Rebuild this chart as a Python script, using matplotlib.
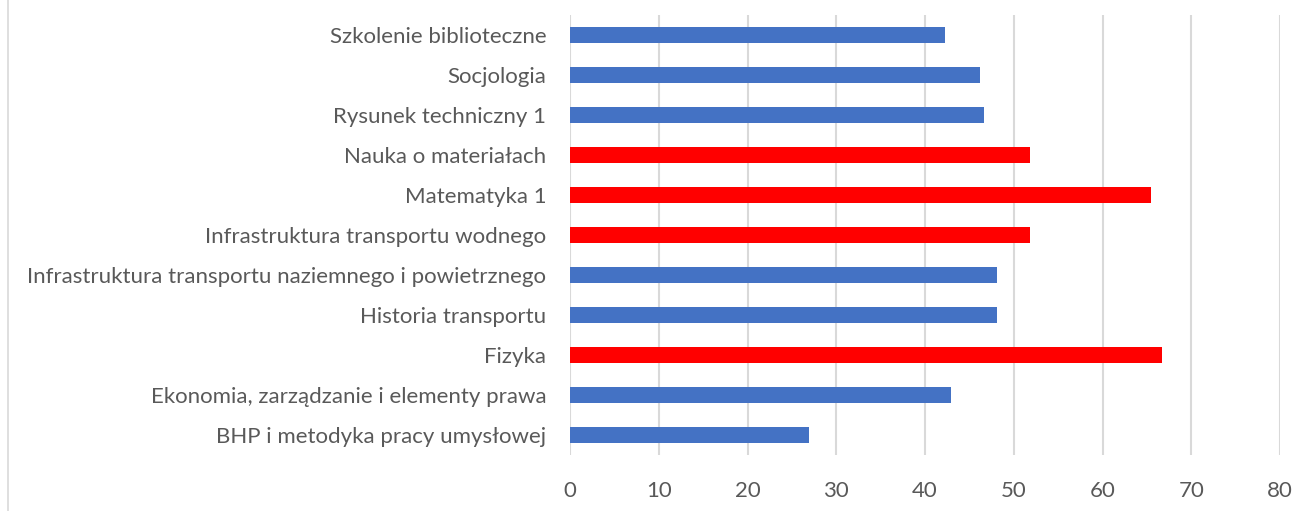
import matplotlib
matplotlib.use("Agg")
import matplotlib.pyplot as plt
from matplotlib.lines import Line2D


subjects = [
    "Szkolenie biblioteczne",
    "Socjologia",
    "Rysunek techniczny 1",
    "Nauka o materiałach",
    "Matematyka 1",
    "Infrastruktura transportu wodnego",
    "Infrastruktura transportu naziemnego i powietrznego",
    "Historia transportu",
    "Fizyka",
    "Ekonomia, zarządzanie i elementy prawa",
    "BHP i metodyka pracy umysłowej",
]
values = [42.3, 46.2, 46.7, 51.8, 65.5, 51.8, 48.1, 48.1, 66.7, 42.9, 26.9]
highlighted = [False, False, False, True, True, True, False, False, True, False, False]
x_ticks = [0, 10, 20, 30, 40, 50, 60, 70, 80]

BLUE = "#4472C4"
RED = "#FF0000"
TEXT = "#595959"
GRID = "#D9D9D9"


def main():
    plt.rcParams['font.family'] = ['Lato', 'DejaVu Sans']
    fig = plt.figure(figsize=(13.11, 5.11), dpi=100)
    ax = fig.add_axes([570 / 1311, 1 - 455 / 511, 710 / 1311, 440 / 511])

    colors = [RED if h else BLUE for h in highlighted]
    ypos = list(range(len(subjects)))
    ax.barh(ypos, values, height=0.39, color=colors, zorder=3)

    ax.set_xlim(0, 80)
    ax.set_ylim(len(subjects) - 0.5, -0.5)
    ax.set_xticks(x_ticks)
    ax.set_yticks(ypos)
    ax.set_yticklabels(subjects)

    ax.grid(axis='x', color=GRID, linewidth=1.5, zorder=0)
    for s in ax.spines.values():
        s.set_visible(False)
    ax.tick_params(axis='both', length=0, labelsize=16, colors=TEXT)
    ax.tick_params(axis='y', pad=17)
    ax.tick_params(axis='x', pad=19)

    # chart frame, only left edge shows in the crop
    fig.add_artist(Line2D([8 / 1311, 8 / 1311], [0, 1], color=GRID,
                          linewidth=1.2, transform=fig.transFigure))

    fig.savefig("out.png", dpi=100)


if __name__ == "__main__":
    main()
